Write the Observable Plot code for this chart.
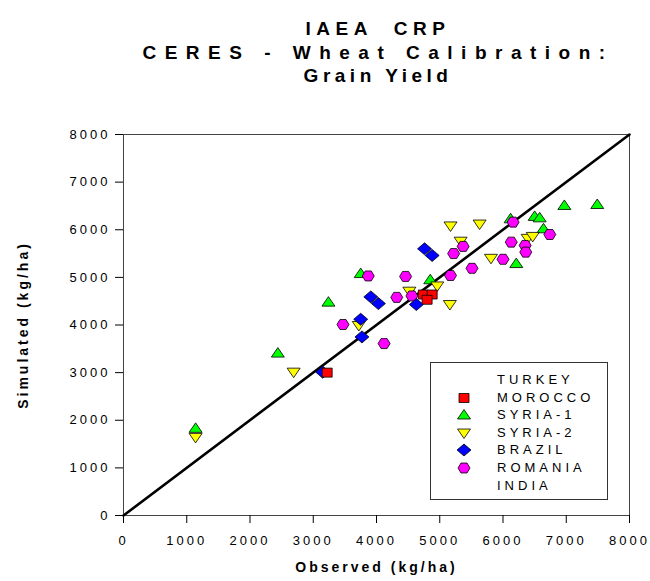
<!DOCTYPE html>
<html><head><meta charset="utf-8">
<script src="https://cdn.jsdelivr.net/npm/d3@7"></script>
<script src="https://cdn.jsdelivr.net/npm/@observablehq/plot@0.6"></script>
<style>
body{margin:0;background:#fff;font-family:"Liberation Sans",Arial,sans-serif;}
#wrap{position:relative;width:650px;height:581px;overflow:hidden;}
#title{height:110px;position:relative;}
#title div{position:absolute;left:0;width:756px;text-align:center;font-weight:bold;font-size:19px;color:#000;white-space:pre;}
#legend{position:absolute;left:430px;top:362px;width:178px;height:138px;border:1px solid #333;box-sizing:border-box;background:#fff;}
#legend .row{position:absolute;left:0;height:18px;width:178px;}
#legend svg{position:absolute;left:24px;top:0;}
#legend span{position:absolute;left:66px;top:1px;font-size:13px;letter-spacing:4px;line-height:16px;color:#000;}
</style></head><body>
<div id="wrap">
<div id="title"></div>
<div id="chart"></div>
<div id="legend"></div>
</div>
<script>
const titleLines = ["IAEA  CRP", "CERES - Wheat Calibration:", "Grain Yield"];
const titleSpacing = [5.5, 8.5, 4.5];
const xTicks = [0,1000,2000,3000,4000,5000,6000,7000,8000];
const yTicks = [0,1000,2000,3000,4000,5000,6000,7000,8000];
const lineX = [0, 8000];
const lineY = [0, 8000];
const legendNames = ["TURKEY","MOROCCO","SYRIA-1","SYRIA-2","BRAZIL","ROMANIA","INDIA"];

const moroccoX = [3220, 4740, 4880, 4800];
const moroccoY = [3000, 4640, 4640, 4530];
const syria1X = [1140, 2440, 3240, 3750, 4850, 6120, 6500, 6580, 6640, 6210, 6970, 7490];
const syria1Y = [1830, 3410, 4480, 5080, 4950, 6230, 6280, 6250, 6020, 5290, 6510, 6530];
const syria2X = [1140, 2690, 3720, 4520, 4960, 5160, 5170, 5330, 5630, 5810, 6390, 6470];
const syria2Y = [1640, 3010, 3990, 4710, 4820, 4430, 6080, 5760, 6120, 5400, 5820, 5860];
const brazilX = [3150, 3770, 3750, 3910, 4030, 4630, 4760, 4880];
const brazilY = [3010, 3750, 4120, 4590, 4450, 4430, 5600, 5460];
const romaniaX = [3470, 3870, 4120, 4320, 4460, 4560, 5170, 5220, 5370, 5510, 6000, 6130, 6160, 6350, 6360, 6740];
const romaniaY = [4010, 5030, 3610, 4580, 5020, 4610, 5040, 5500, 5650, 5190, 5380, 5740, 6160, 5670, 5530, 5900];

// symbols
function poly(pts){return {draw(ctx){ctx.moveTo(pts[0][0],pts[0][1]);for(let i=1;i<pts.length;i++)ctx.lineTo(pts[i][0],pts[i][1]);ctx.closePath();}};}
const symSquare = poly([[-5,-4.5],[5,-4.5],[5,4.5],[-5,4.5]]);
const symUp = poly([[0,-5.5],[6.5,4],[-6.5,4]]);
const symDown = poly([[-6.5,-4],[6.5,-4],[0,5.5]]);
const symDiamond = poly([[0,-6],[7,0],[0,6],[-7,0]]);
const symHex = poly([[-6,0],[-3,-5],[3,-5],[6,0],[3,5],[-3,5]]);

const series = [
  {name:"SYRIA-1", xs:syria1X, ys:syria1Y, sym:symUp, fill:"#00ff00"},
  {name:"SYRIA-2", xs:syria2X, ys:syria2Y, sym:symDown, fill:"#ffff00"},
  {name:"ROMANIA", xs:romaniaX, ys:romaniaY, sym:symHex, fill:"#ff00ff"},
  {name:"BRAZIL", xs:brazilX, ys:brazilY, sym:symDiamond, fill:"#0000ff"},
  {name:"MOROCCO", xs:moroccoX, ys:moroccoY, sym:symSquare, fill:"#ff0000"}
];

// title
const t = document.getElementById("title");
titleLines.forEach((s,i)=>{const d=document.createElement("div");d.textContent=s;d.style.top=(18+i*23.5)+"px";d.style.letterSpacing=titleSpacing[i]+"px";t.appendChild(d);});

const lineData = lineX.map((x,i)=>({x, y:lineY[i]}));
const marks = [
  Plot.frame({stroke:"#444", strokeWidth:1}),
  Plot.line(lineData, {x:"x", y:"y", stroke:"#000", strokeWidth:2.6})
];
for (const s of series) {
  const data = s.xs.map((x,i)=>({x, y:s.ys[i]}));
  marks.push(Plot.dot(data, {x:"x", y:"y", symbol:s.sym, r:5, fill:s.fill, stroke:"#000", strokeWidth:0.8}));
}
marks.push(Plot.axisX({ticks:xTicks, tickSize:8, tickPadding:12, tickFormat:d=>String(d), label:null, stroke:"#000"}));
marks.push(Plot.axisY({ticks:yTicks, tickSize:8, tickPadding:5, tickFormat:d=>String(d), label:null, stroke:"#000"}));
marks.push(Plot.text(["Observed (kg/ha)"], {frameAnchor:"bottom", dy:56, fontWeight:"bold", fontSize:14, text:d=>d}));
marks.push(Plot.text(["Simulated (kg/ha)"], {frameAnchor:"left", textAnchor:"middle", dx:-100, rotate:-90, fontWeight:"bold", fontSize:14, text:d=>d}));

const chart = Plot.plot({
  width:650, height:471,
  marginLeft:123, marginRight:21, marginTop:24, marginBottom:66,
  x:{domain:[0,8000], ticks:xTicks},
  y:{domain:[0,8000], ticks:yTicks},
  style:{fontFamily:"'Liberation Sans', Arial, sans-serif", fontSize:"13px", letterSpacing:"3px", color:"#000", background:"#fff", overflow:"visible"},
  marks
});
document.getElementById("chart").appendChild(chart);

// legend
const lg = document.getElementById("legend");
const legendSyms = {"MOROCCO":symSquare,"SYRIA-1":symUp,"SYRIA-2":symDown,"BRAZIL":symDiamond,"ROMANIA":symHex};
const legendFill = {"MOROCCO":"#ff0000","SYRIA-1":"#00ff00","SYRIA-2":"#ffff00","BRAZIL":"#0000ff","ROMANIA":"#ff00ff"};
legendNames.forEach((n,i)=>{
  const row=document.createElement("div");row.className="row";row.style.top=(8+i*17.6)+"px";
  if (legendSyms[n]) {
    const svg=d3.create("svg").attr("width",24).attr("height",18);
    const p=d3.path();legendSyms[n].draw(p);
    svg.append("path").attr("transform","translate(9,9)").attr("d",p.toString()).attr("fill",legendFill[n]).attr("stroke","#000").attr("stroke-width",0.8);
    row.appendChild(svg.node());
  }
  const sp=document.createElement("span");sp.textContent=n;row.appendChild(sp);
  lg.appendChild(row);
});
</script>
</body></html>
